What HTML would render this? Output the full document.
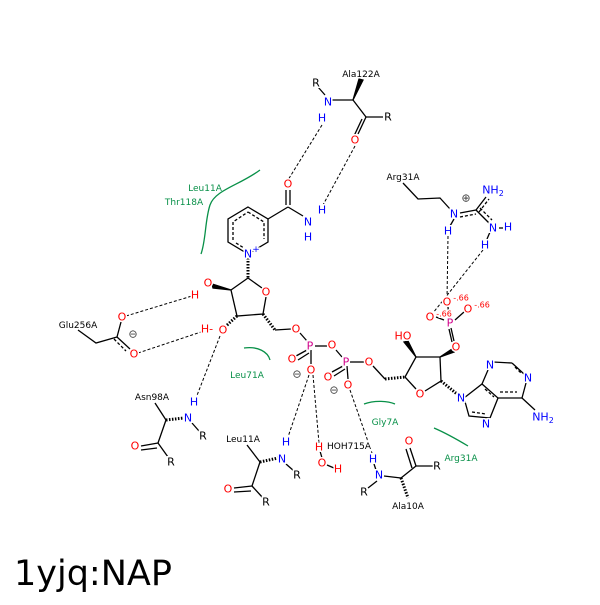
<!DOCTYPE html>
<html><head><style>body{margin:0;background:#fff}svg text{font-family:"DejaVu Sans","Liberation Sans",sans-serif}.a text{stroke:#fff;stroke-width:3px;paint-order:stroke}</style></head><body>
<svg width="600" height="600" viewBox="0 0 600 600" xmlns="http://www.w3.org/2000/svg">
<rect width="600" height="600" fill="#fff"/>
<g stroke="#000" stroke-width="1.3" fill="none">
<line x1="331" y1="100" x2="353" y2="100"/><line x1="353" y1="100" x2="366" y2="117"/><line x1="366" y1="117" x2="383" y2="117"/>
<line x1="366" y1="117" x2="358" y2="134"/><line x1="362" y1="119" x2="354" y2="136"/>
<line x1="325" y1="95" x2="318" y2="87"/>
<polygon points="353,100 359,79 363,80" fill="#000"/>
<polygon points="248,207 268,219 268,242 248,254 228,242 228,219"/>
<g stroke-dasharray="3,2"><polyline points="248,212 264,222 264,239"/><polyline points="233,240 233,222 248,212"/><line x1="236" y1="243" x2="244" y2="248"/></g>
<line x1="288" y1="207" x2="268" y2="219"/><line x1="288" y1="207" x2="303" y2="216"/>
<line x1="286" y1="205" x2="286" y2="190"/><line x1="290" y1="205" x2="290" y2="190"/>
<line x1="248" y1="258" x2="248" y2="278" stroke-dasharray="1.5,1.5" stroke-width="3"/>
<polyline points="248,278 262,288"/><polyline points="266,297 263,314 237,316 231,290 248,278"/>
<line x1="263" y1="314" x2="275" y2="330" stroke-dasharray="1.5,1.5" stroke-width="3"/>
<line x1="275" y1="330" x2="291" y2="329"/>
<polygon points="231,290 212,284 213,288" fill="#000"/>
<line x1="237" y1="316" x2="226" y2="326" stroke-dasharray="1.5,1.5" stroke-width="3"/>
<line x1="300" y1="333" x2="307" y2="341"/><line x1="315" y1="346" x2="327" y2="346"/>
<line x1="336" y1="350" x2="342" y2="357"/><line x1="350" y1="362" x2="364" y2="362"/>
<line x1="307" y1="350" x2="296" y2="356"/><line x1="309" y1="353" x2="298" y2="360"/>
<line x1="311" y1="350" x2="311" y2="364"/>
<line x1="343" y1="366" x2="332" y2="372"/><line x1="345" y1="369" x2="334" y2="376"/>
<line x1="347" y1="366" x2="348" y2="379"/>
<line x1="373" y1="366" x2="385" y2="379"/>
<line x1="385" y1="379" x2="405" y2="377" stroke-dasharray="1.5,1.5" stroke-width="3"/>
<polyline points="405,377 416,389"/><polyline points="425,391 441,381 440,357 416,357 405,377"/>
<polygon points="416,357 404,342 408,341" fill="#000"/>
<polygon points="440,357 452,349 454,352" fill="#000"/>
<line x1="441" y1="381" x2="457" y2="394" stroke-dasharray="1.5,1.5" stroke-width="3"/>
<line x1="454" y1="341" x2="451" y2="328"/><line x1="452" y1="342" x2="449" y2="329"/>
<line x1="444" y1="320" x2="436" y2="317"/><line x1="449" y1="318" x2="448" y2="307"/><line x1="455" y1="320" x2="464" y2="312"/>
<polygon points="464,398 482,384 498,398 490,418 469,416"/>
<g stroke-dasharray="3,2"><line x1="485" y1="389" x2="494" y2="397"/><line x1="472" y1="412" x2="486" y2="414"/><line x1="500" y1="392" x2="517" y2="392"/><line x1="515" y1="367" x2="522" y2="374"/></g>
<line x1="482" y1="384" x2="488" y2="370"/><line x1="493" y1="362" x2="512" y2="363"/><line x1="512" y1="363" x2="524" y2="374"/>
<line x1="526" y1="383" x2="522" y2="398"/><line x1="522" y1="398" x2="498" y2="398"/><line x1="522" y1="398" x2="535" y2="410"/>
<polyline points="403,183 418,199 440,198 450,209"/>
<line x1="460" y1="213" x2="476" y2="210"/><line x1="460" y1="217" x2="476" y2="214" stroke-dasharray="3,2"/>
<line x1="476" y1="210" x2="486" y2="197"/><line x1="479" y1="212" x2="489" y2="199" stroke-dasharray="3,2"/>
<line x1="476" y1="210" x2="489" y2="223"/><line x1="480" y1="208" x2="492" y2="220" stroke-dasharray="3,2"/>
<line x1="454" y1="219" x2="450" y2="226"/><line x1="490" y1="232" x2="487" y2="239"/><line x1="499" y1="228" x2="503" y2="228"/>
<polyline points="78,330 96,343 117,337"/><line x1="117" y1="337" x2="121" y2="322"/><line x1="117" y1="337" x2="130" y2="349"/>
<line x1="114" y1="339" x2="126" y2="351" stroke-dasharray="3,2"/>
<line x1="155" y1="403" x2="166" y2="420"/><line x1="166" y1="420" x2="158" y2="443"/><line x1="158" y1="443" x2="141" y2="446"/><line x1="157" y1="448" x2="141" y2="450"/>
<line x1="158" y1="443" x2="168" y2="457"/><line x1="192" y1="423" x2="199" y2="431"/>
<line x1="166" y1="420" x2="184" y2="418" stroke-dasharray="1.5,1.5" stroke-width="3"/>
<line x1="247" y1="445" x2="260" y2="462"/><line x1="260" y1="462" x2="252" y2="486"/><line x1="252" y1="486" x2="234" y2="488"/><line x1="251" y1="491" x2="234" y2="492"/>
<line x1="252" y1="486" x2="263" y2="498"/><line x1="286" y1="464" x2="294" y2="471"/>
<line x1="260" y1="462" x2="278" y2="458" stroke-dasharray="1.5,1.5" stroke-width="3"/>
<line x1="322" y1="458" x2="320" y2="451"/><line x1="327" y1="465" x2="334" y2="468"/>
<line x1="376" y1="470" x2="374" y2="464"/><line x1="384" y1="476" x2="401" y2="478"/><line x1="401" y1="478" x2="416" y2="466"/>
<line x1="416" y1="466" x2="433" y2="466"/><line x1="416" y1="466" x2="410" y2="448"/><line x1="412" y1="468" x2="406" y2="449"/>
<line x1="377" y1="481" x2="368" y2="488"/>
<line x1="401" y1="478" x2="408" y2="498" stroke-dasharray="1.5,1.5" stroke-width="3"/>
</g>
<g stroke="#000" stroke-width="1" fill="none" stroke-dasharray="3,2">
<line x1="322" y1="125" x2="288" y2="180"/><line x1="355" y1="146" x2="323" y2="205"/>
<line x1="448" y1="236" x2="447" y2="300"/><line x1="483" y1="250" x2="433" y2="313"/>
<line x1="126" y1="316" x2="192" y2="296"/><line x1="138" y1="353" x2="204" y2="331"/>
<line x1="220" y1="336" x2="196" y2="398"/>
<line x1="309" y1="375" x2="288" y2="437"/><line x1="313" y1="375" x2="319" y2="443"/>
<line x1="350" y1="390" x2="372" y2="453"/>
</g>
<g stroke="#089048" stroke-width="1.3" fill="none">
<path d="M260,170 C240,185 215,190 210,205 C205,220 206,240 201,254"/>
<path d="M244,348 C258,346 268,352 270,360"/>
<path d="M364,404 C375,400 388,401 395,404"/>
<path d="M434,428 C448,434 458,440 468,446"/>
</g>
<g class="a" font-size="11" text-anchor="middle" dominant-baseline="central">
<text x="361" y="75" font-size="9">Ala122A</text>
<text x="316" y="83">R</text><text x="328" y="102" fill="#00f">N</text><text x="322" y="118" fill="#00f">H</text><text x="388" y="117">R</text><text x="355" y="140" fill="#f00">O</text>
<text x="288" y="184" fill="#f00">O</text><text x="308" y="222" fill="#00f">N</text><text x="322" y="210" fill="#00f">H</text><text x="308" y="237" fill="#00f">H</text>
<text x="248" y="254" fill="#00f">N</text><text x="256" y="250" fill="#00f" font-size="9">+</text>
<text x="266" y="292" fill="#f00">O</text><text x="208" y="283" fill="#f00">O</text><text x="195" y="295" fill="#f00">H</text>
<text x="223" y="330" fill="#f00">O</text><text x="207" y="329" fill="#f00">H-</text>
<text x="296" y="329" fill="#f00">O</text><text x="310" y="346" fill="#d0008a">P</text><text x="332" y="345" fill="#f00">O</text>
<text x="292" y="359" fill="#f00">O</text><text x="311" y="370" fill="#f00">O</text><text x="297" y="374" fill="#444">⊖</text>
<text x="346" y="362" fill="#d0008a">P</text><text x="328" y="377" fill="#f00">O</text><text x="348" y="385" fill="#f00">O</text><text x="334" y="390" fill="#444">⊖</text>
<text x="369" y="362" fill="#f00">O</text><text x="420" y="394" fill="#f00">O</text><text x="403" y="336" fill="#f00">HO</text>
<text x="456" y="347" fill="#f00">O</text><text x="450" y="323" fill="#d0008a">P</text>
<text x="430" y="317" fill="#f00">O</text><text x="444" y="314" fill="#f00" font-size="8">-.66</text>
<text x="447" y="302" fill="#f00">O</text><text x="461" y="298" fill="#f00" font-size="8">-.66</text>
<text x="468" y="309" fill="#f00">O</text><text x="482" y="305" fill="#f00" font-size="8">-.66</text>
<text x="461" y="398" fill="#00f">N</text><text x="486" y="424" fill="#00f">N</text><text x="490" y="365" fill="#00f">N</text><text x="528" y="378" fill="#00f">N</text>
<text x="543" y="417" fill="#00f">NH<tspan font-size="8" dy="3">2</tspan></text>
<text x="403" y="178" font-size="9">Arg31A</text><text x="454" y="214" fill="#00f">N</text><text x="466" y="198" fill="#444">⊕</text>
<text x="493" y="190" fill="#00f">NH<tspan font-size="8" dy="3">2</tspan></text><text x="493" y="228" fill="#00f">N</text><text x="508" y="227" fill="#00f">H</text>
<text x="485" y="245" fill="#00f">H</text><text x="448" y="231" fill="#00f">H</text>
<text x="78" y="326" font-size="9">Glu256A</text><text x="122" y="317" fill="#f00">O</text><text x="134" y="354" fill="#f00">O</text><text x="133" y="334" fill="#444">⊖</text>
<text x="152" y="398" font-size="9">Asn98A</text><text x="188" y="418" fill="#00f">N</text><text x="194" y="402" fill="#00f">H</text><text x="203" y="436">R</text><text x="135" y="446" fill="#f00">O</text><text x="171" y="462">R</text>
<text x="243" y="440" font-size="9">Leu11A</text><text x="282" y="459" fill="#00f">N</text><text x="286" y="442" fill="#00f">H</text><text x="297" y="475">R</text><text x="228" y="489" fill="#f00">O</text><text x="266" y="502">R</text>
<text x="319" y="447" fill="#f00">H</text><text x="322" y="463" fill="#f00">O</text><text x="338" y="469" fill="#f00">H</text><text x="349" y="447" font-size="9">HOH715A</text>
<text x="373" y="459" fill="#00f">H</text><text x="379" y="475" fill="#00f">N</text><text x="364" y="492">R</text><text x="408" y="507" font-size="9">Ala10A</text><text x="409" y="441" fill="#f00">O</text><text x="437" y="466">R</text>
</g>
<g font-size="9" fill="#089048" text-anchor="middle" dominant-baseline="central">
<text x="205" y="189">Leu11A</text><text x="184" y="203">Thr118A</text><text x="247" y="376">Leu71A</text><text x="385" y="423">Gly7A</text><text x="461" y="459">Arg31A</text>
</g>
<text x="14" y="585" font-size="35" font-family="DejaVu Sans,sans-serif">1yjq:NAP</text>
</svg>
</body></html>
